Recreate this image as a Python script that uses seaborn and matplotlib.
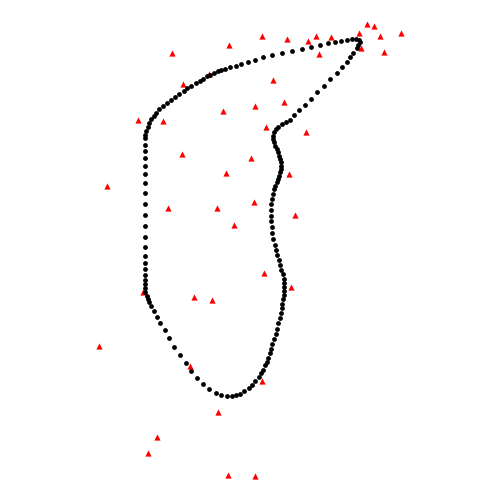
import numpy as np
import pandas as pd
import matplotlib
matplotlib.use('Agg')
import matplotlib.pyplot as plt
import seaborn as sns

# closed curve (black dots), in picture units
curve_x = [356, 351.7, 346.7, 341, 335, 328.3, 320.3, 311, 301.7, 291.7, 282.3, 271.7, 263.3,
           255.3, 247.7, 241, 235.7, 230.3, 225.3, 221.3, 218, 214, 210, 206.7, 203, 199.5,
           195.5, 191.3, 187.3, 183.7, 179.3, 175.3, 171, 167, 163, 159.3, 156.3, 153.7,
           151.3, 149.3, 147.7, 146.3, 145.3, 145,
           144.5, 144.5, 144.5, 144.5, 144.5, 144.5, 144.5, 144.5, 144.5, 144.5, 144.5,
           144.5, 144.5, 144.5, 144.5, 144.5, 144.5, 144.5, 144.7, 145.3, 146.5, 147.8,
           149, 151.3, 154, 157, 160.3, 165.3, 169.3, 174.3, 180.3, 186, 191, 197, 203.3,
           209.3, 215.5, 221.3, 226.5, 231.5, 236, 240.3, 244.3, 248.7, 252, 255.3, 258.7,
           261, 263, 265, 266.7, 268.3, 269.7, 271, 272.3, 274, 275.7, 277, 278.3, 279.7,
           280.7, 281.7, 282.3, 283, 283.7, 284, 284.3, 284.3,
           283.7, 282.7, 281.3, 280, 278.7, 277.3, 276, 274.7, 273.3, 272.3, 271.7, 271,
           270.7, 270.7, 271, 271.7, 272.7, 274, 275.3, 276.7, 278, 279, 280, 280.7, 281,
           280.7, 280, 279, 278, 276.7, 275.3, 274, 273.3, 273.3, 274.3, 276, 278.3, 281.7,
           285.7, 289.5, 294, 299.3, 305, 311, 317.3, 324, 330.3, 336.7, 341.5, 346.5, 350,
           353, 356.7, 358.3, 359.5, 358.5]
curve_y = [39, 39.3, 40.3, 41.3, 42.3, 43.3, 45.3, 47.3, 49.3, 51, 53.3, 55, 57,
           59.7, 62.3, 64.3, 66, 67.3, 68.7, 70, 71, 73, 74.7, 76.3, 78.5, 80.5,
           83, 85.5, 88.3, 91, 93.7, 96.7, 99.7, 102.7, 106, 109.3, 112.7, 116,
           119.3, 123, 126.7, 130.7, 134.7, 138.3,
           145, 151.3, 158.3, 166, 174.3, 183.3, 193.3, 204, 215.3, 226.3, 236.7,
           246.7, 255.7, 262.7, 269, 274.7, 279.7, 284, 288.3, 292.3, 295.7, 298.8,
           302.3, 306.3, 311, 316.7, 323.3, 330.3, 338.3, 347.3, 355.3, 363, 371, 378.3, 384.3,
           389.3, 393.3, 395.3, 396.3, 396.3, 395.3, 394, 391, 388, 384.7, 381, 376.7,
           373.3, 369.7, 365.3, 361.7, 357.7, 353.3, 349, 344.3, 339.3, 334.3, 329, 323.3, 318,
           313, 308.3, 304, 299.3, 295, 290.7, 286.7, 282.7,
           279, 274.3, 270, 265, 260, 255, 250, 245, 239.3, 233.3, 227.3, 221.3,
           215.7, 210, 204.3, 199, 194, 189.3, 185.7, 182.3, 179, 175.7, 172.3, 169, 165.7,
           162.3, 159, 155.7, 152.3, 149, 145.7, 142.3, 139, 135.7, 132.3, 129.3, 126.7, 124,
           122, 119.5, 115, 110.3, 105, 99.3, 92.3, 86, 79.3, 73.3, 67.3, 62.3, 57.3,
           52.7, 48.3, 45, 42, 39.8]

# scattered points (red triangles)
tri_x = [315.7, 308.3, 331.3, 319.3, 359.3, 367.3, 374.3, 380, 401.3, 361.3, 384.3,
         262.3, 287, 229.3, 172.3, 273.3, 183, 208.7, 284.3, 255.3, 223.3, 138.3, 163.3,
         266.3, 306, 182.3, 251.3, 226.3, 289.3, 168.3, 217.3, 254.3, 295, 234.3, 264.3,
         291.3, 142.7, 194.3, 212.3, 107, 99.3, 190.3, 262.3, 218.3, 157.3, 148.3, 228.3, 255]
tri_y = [35.7, 41, 37.3, 54.3, 33.3, 24.3, 26.3, 36.3, 33.3, 48.3, 52.3,
         36.3, 39.3, 45.3, 53.3, 80.3, 84.3, 74, 102.3, 106.3, 111.3, 120.3, 121.3,
         127.3, 132.3, 154.3, 158.3, 173.3, 174.3, 208.3, 208.3, 202.3, 215.3, 225.3, 273.3,
         287.3, 292.3, 297.3, 300.3, 186, 346.3, 365.7, 381.3, 412.3, 437.3, 453.3, 475.3, 476.3]

curve = pd.DataFrame({"x": curve_x, "y": curve_y})
tris = pd.DataFrame({"x": tri_x, "y": tri_y})

sns.set_style("white")
fig = plt.figure(figsize=(5, 5), dpi=100)
ax = fig.add_axes([0, 0, 1, 1])

sns.scatterplot(data=tris, x="x", y="y", marker="^", color="red", s=20,
                linewidth=0, ax=ax, zorder=2)
sns.scatterplot(data=curve, x="x", y="y", marker="o", color="black", s=12,
                linewidth=0, ax=ax, zorder=3)

ax.set_xlim(0, 500)
ax.set_ylim(500, 0)
ax.set_axis_off()

plt.savefig("out.png", dpi=100)
